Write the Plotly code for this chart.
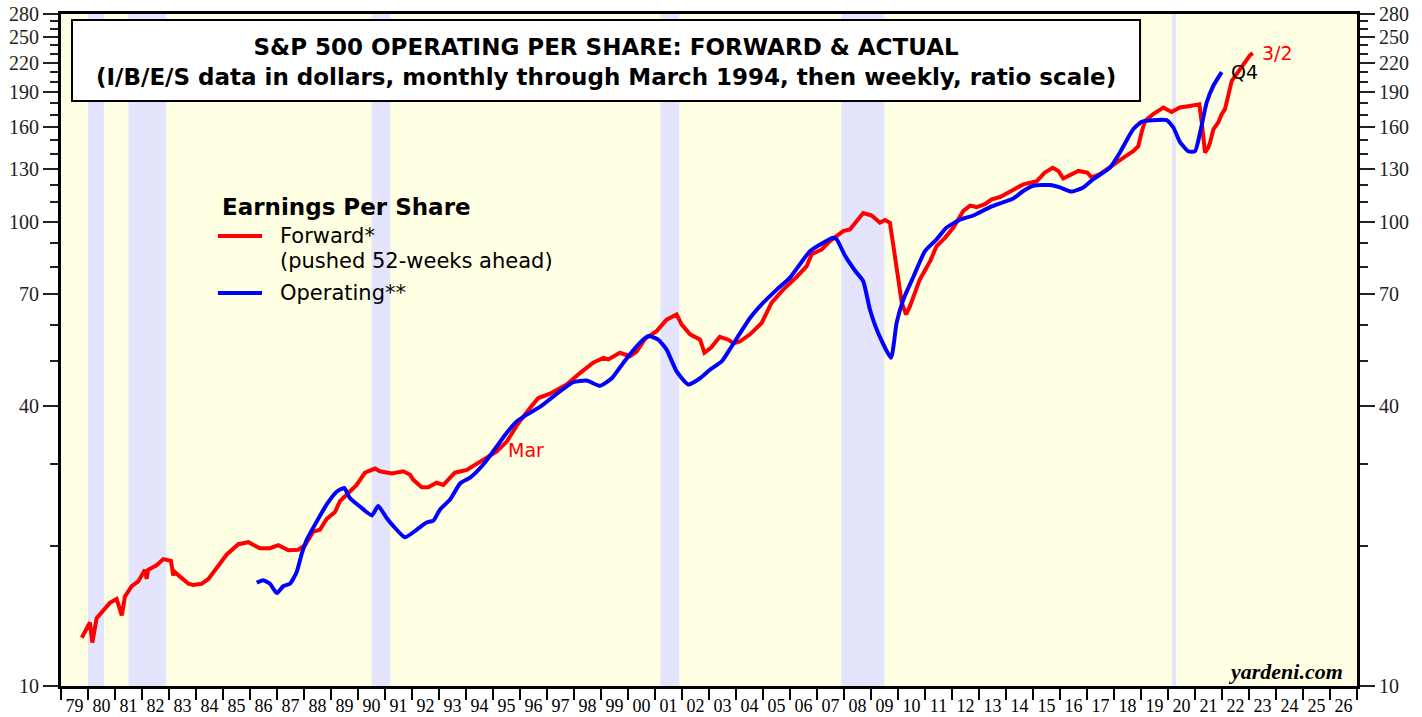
import plotly.graph_objects as go

# ---------------- data ----------------
fwd_year = [1979.77, 1980.07, 1980.16, 1980.32, 1980.81, 1981.06, 1981.25, 1981.37, 1981.62, 1981.86,
            1982.11, 1982.17, 1982.23, 1982.54, 1982.79, 1983.07, 1983.16, 1983.22, 1983.41, 1983.72,
            1983.90, 1984.21, 1984.46, 1984.70, 1985.14, 1985.57, 1985.94, 1986.37, 1986.74, 1987.05,
            1987.42, 1987.79, 1988.04, 1988.34, 1988.59, 1988.84, 1989.15, 1989.33, 1989.70, 1989.95,
            1990.26, 1990.63, 1990.81, 1991.25, 1991.68, 1991.93, 1992.05, 1992.36, 1992.60, 1992.91,
            1993.16, 1993.59, 1994.03, 1994.40, 1994.77, 1995.14, 1995.51, 1995.94, 1996.37, 1996.68,
            1997.11, 1997.73, 1998.22, 1998.71, 1999.09, 1999.27, 1999.70, 2000.07, 2000.32, 2000.63,
            2001.06, 2001.43, 2001.80, 2001.99, 2002.30, 2002.67, 2002.83, 2003.07, 2003.40, 2003.72,
            2003.90, 2004.15, 2004.52, 2004.95, 2005.32, 2005.75, 2006.25, 2006.62, 2006.80, 2007.17,
            2007.48, 2007.97, 2008.22, 2008.47, 2008.71, 2009.03, 2009.33, 2009.52, 2009.70, 2009.83,
            2010.01, 2010.14, 2010.30, 2010.44, 2010.81, 2011.19, 2011.43, 2011.74, 2012.05, 2012.42,
            2012.67, 2012.91, 2013.22, 2013.47, 2013.78, 2014.27, 2014.64, 2015.14, 2015.44, 2015.73,
            2015.94, 2016.12, 2016.37, 2016.68, 2017.01, 2017.17, 2017.48, 2017.73, 2018.04, 2018.34,
            2018.71, 2018.90, 2019.02, 2019.15, 2019.45, 2019.83, 2020.13, 2020.44, 2020.81, 2021.16,
            2021.25, 2021.37, 2021.49, 2021.56, 2021.68, 2021.86, 2021.99, 2022.11, 2022.23, 2022.36,
            2022.54, 2022.79, 2023.04, 2023.14]
fwd_eps = [12.7, 13.7, 12.4, 14.0, 15.1, 15.4, 14.2, 15.6, 16.4, 16.8,
           17.8, 17.0, 17.8, 18.2, 18.76, 18.6, 17.3, 17.6, 17.2, 16.6,
           16.5, 16.6, 17.0, 17.8, 19.2, 20.2, 20.4, 19.8, 19.8, 20.1,
           19.6, 19.65, 20.1, 21.5, 21.7, 22.9, 23.7, 25.0, 26.2, 27.1,
           28.8, 29.4, 29.0, 28.7, 29.0, 28.5, 27.8, 26.8, 26.8, 27.4,
           27.1, 28.8, 29.2, 30.1, 31.1, 32.0, 33.6, 36.8, 39.7, 41.7,
           42.6, 44.6, 47.2, 49.7, 50.9, 50.5, 52.2, 51.3, 52.5, 55.9,
           58.1, 61.5, 63.1, 60.0, 57.2, 55.7, 52.2, 53.5, 56.5, 55.7,
           54.7, 55.2, 57.2, 60.5, 66.9, 71.4, 76.1, 80.2, 85.1, 87.1,
           90.8, 95.4, 96.2, 100.4, 104.4, 103.1, 99.5, 100.8, 99.5, 88.6,
           76.1, 66.9, 63.1, 65.7, 75.1, 82.2, 88.6, 92.3, 97.1, 105.5,
           108.3, 107.5, 109.1, 111.7, 113.0, 117.4, 120.3, 122.2, 127.6, 130.6,
           128.6, 123.9, 125.8, 128.6, 127.6, 124.6, 126.5, 129.6, 133.8, 137.2,
           141.8, 145.4, 155.6, 164.8, 170.4, 176.1, 172.2, 176.1, 177.5, 178.9,
           163.6, 140.9, 144.3, 148.1, 158.1, 163.5, 170.4, 174.7, 186.6, 201.0,
           207.8, 218.4, 228.4, 230.7]

op_year = [1986.25, 1986.49, 1986.74, 1986.99, 1987.23, 1987.48, 1987.73, 1987.91, 1988.10, 1988.47,
           1988.84, 1989.21, 1989.49, 1989.70, 1990.07, 1990.51, 1990.75, 1991.06, 1991.31, 1991.74,
           1992.17, 1992.54, 1992.79, 1993.04, 1993.41, 1993.78, 1994.15, 1994.64, 1995.14, 1995.51,
           1995.88, 1996.25, 1996.74, 1997.23, 1997.97, 1998.47, 1998.96, 1999.40, 1999.83, 2000.32,
           2000.75, 2001.12, 2001.43, 2001.80, 2002.23, 2002.67, 2003.04, 2003.47, 2003.78, 2004.52,
           2005.01, 2005.51, 2006.00, 2006.74, 2007.23, 2007.60, 2007.73, 2008.04, 2008.41, 2008.71,
           2008.96, 2009.27, 2009.74, 2009.95, 2010.20, 2010.57, 2011.00, 2011.43, 2011.80, 2012.30,
           2012.79, 2013.41, 2013.78, 2014.27, 2014.64, 2015.01, 2015.63, 2016.00, 2016.43, 2016.86,
           2017.23, 2017.85, 2018.22, 2018.71, 2019.02, 2019.45, 2019.95, 2020.20, 2020.44, 2020.75,
           2021.00, 2021.19, 2021.43, 2021.68, 2021.99]
op_eps = [16.7, 16.9, 16.6, 15.85, 16.4, 16.6, 17.6, 19.2, 20.65, 22.6,
          24.6, 26.2, 26.7, 25.4, 24.35, 23.3, 24.4, 23.0, 22.1, 20.9,
          21.7, 22.5, 22.7, 24.0, 25.2, 27.3, 28.1, 30.0, 32.8, 35.1,
          37.1, 38.4, 39.9, 42.0, 45.1, 45.5, 44.3, 46.0, 49.7, 53.9,
          56.7, 55.7, 53.0, 47.6, 44.6, 46.0, 48.0, 50.0, 53.2, 62.0,
          66.9, 71.4, 75.8, 86.4, 90.1, 92.3, 91.6, 84.4, 78.4, 74.5,
          64.7, 57.5, 50.9, 60.6, 68.0, 76.1, 86.4, 91.6, 97.1, 101.0,
          103.1, 107.5, 109.5, 112.2, 116.4, 119.5, 119.9, 118.5, 116.1, 118.5,
          123.4, 130.7, 140.9, 158.1, 164.0, 165.4, 165.4, 159.5, 148.5, 141.8,
          141.8, 155.6, 180.3, 196.2, 209.9]

recession_start = [1980.0, 1981.5, 1990.5, 2001.2, 2007.9, 2020.15]
recession_end = [1980.6, 1982.9, 1991.2, 2001.9, 2009.5, 2020.3]

year_ticks = list(range(1979, 2028))
year_labels = [f"{y % 100:02d}" for y in range(1979, 2027)]
y_major = [10, 40, 70, 100, 130, 160, 190, 220, 250, 280]
y_minor = [v for v in range(20, 280, 10) if v not in y_major]

# ---------------- figure ----------------
RED = "#FF0000"
BLUE = "#0000FF"
SERIF = "Liberation Serif, Times New Roman, serif"
SANS = "DejaVu Sans, Verdana, sans-serif"

fig = go.Figure()
fig.add_trace(go.Scatter(x=fwd_year, y=fwd_eps, mode="lines",
                         line=dict(color=RED, width=4), showlegend=False,
                         name="Forward"))
fig.add_trace(go.Scatter(x=op_year, y=op_eps, mode="lines", showlegend=False,
                         line=dict(color=BLUE, width=4, shape="spline", smoothing=0.5),
                         name="Operating"))
# invisible trace to activate right axis
fig.add_trace(go.Scatter(x=fwd_year, y=fwd_eps, yaxis="y2", mode="lines",
                         line=dict(width=0), opacity=0, showlegend=False, hoverinfo="skip"))

for s, e in zip(recession_start, recession_end):
    fig.add_shape(type="rect", xref="x", yref="paper", x0=s, x1=e, y0=0, y1=1,
                  fillcolor="#E4E4FC", line=dict(width=0), layer="below")

# title box
fig.add_shape(type="rect", xref="paper", yref="paper", x0=0.0085, x1=0.8326, y0=0.8705, y1=0.991,
              fillcolor="white", line=dict(color="black", width=2), layer="above")
fig.add_annotation(xref="paper", yref="paper", x=0.4205, y=0.928, showarrow=False,
                   xanchor="center", yanchor="middle",
                   text="<b>S&P 500 OPERATING PER SHARE: FORWARD & ACTUAL<br>"
                        "(I/B/E/S data in dollars, monthly through March 1994, then weekly, ratio scale)</b>",
                   font=dict(family=SANS, size=23, color="black"), align="center")

# legend (manual)
fig.add_annotation(xref="paper", yref="paper", x=0.1227, y=0.7128, showarrow=False,
                   xanchor="left", yanchor="middle", text="<b>Earnings Per Share</b>",
                   font=dict(family=SANS, size=23, color="black"))
fig.add_shape(type="line", xref="paper", yref="paper", x0=0.1211, x1=0.1551, y0=0.6696, y1=0.6696,
              line=dict(color=RED, width=4))
fig.add_annotation(xref="paper", yref="paper", x=0.1674, y=0.6696, showarrow=False,
                   xanchor="left", yanchor="middle", text="Forward*",
                   font=dict(family=SANS, size=21, color="black"))
fig.add_annotation(xref="paper", yref="paper", x=0.1674, y=0.6324, showarrow=False,
                   xanchor="left", yanchor="middle", text="(pushed 52-weeks ahead)",
                   font=dict(family=SANS, size=21, color="black"))
fig.add_shape(type="line", xref="paper", yref="paper", x0=0.1211, x1=0.1551, y0=0.5848, y1=0.5848,
              line=dict(color=BLUE, width=4))
fig.add_annotation(xref="paper", yref="paper", x=0.1674, y=0.5848, showarrow=False,
                   xanchor="left", yanchor="middle", text="Operating**",
                   font=dict(family=SANS, size=21, color="black"))

fig.add_annotation(x=1995.48, y=1.509, text="Mar", showarrow=False, xanchor="left", yanchor="middle",
                   font=dict(family=SANS, size=19, color=RED))
fig.add_annotation(x=2023.41, y=2.364, text="3/2", showarrow=False, xanchor="left", yanchor="middle",
                   font=dict(family=SANS, size=19, color=RED))
fig.add_annotation(x=2022.26, y=2.322, text="Q4", showarrow=False, xanchor="left", yanchor="middle",
                   font=dict(family=SANS, size=19, color="black"))
fig.add_annotation(xref="paper", yref="paper", x=0.9907, y=0.0223, text="<b><i>yardeni.com</i></b>",
                   showarrow=False, xanchor="right", yanchor="middle",
                   font=dict(family=SERIF, size=22, color="black"))

yaxis_common = dict(
    type="log", range=[1, 2.4472], tickmode="array", tickvals=y_major,
    ticktext=[str(v) for v in y_major], ticks="outside", ticklen=15, tickwidth=2,
    tickcolor="#222", showgrid=False, zeroline=False, automargin=False,
    tickfont=dict(family=SERIF, size=20, color="#222"),
    minor=dict(tickmode="array", tickvals=y_minor, ticks="outside", ticklen=8,
               tickwidth=2, tickcolor="#222", showgrid=False),
    showline=True, linecolor="black", linewidth=3,
)

fig.update_layout(
    width=1422, height=717,
    margin=dict(l=61, r=65, t=14, b=31, autoexpand=False),
    paper_bgcolor="white", plot_bgcolor="#FFFFE4",
    showlegend=False,
    xaxis=dict(range=[1979, 2027], tickmode="array",
               tickvals=[y + 0.5 for y in range(1979, 2027)], ticktext=year_labels,
               ticks="outside", ticklen=1, tickcolor="rgba(0,0,0,0)", automargin=False,
               tickfont=dict(family=SERIF, size=18, color="black"),
               minor=dict(tickmode="array", tickvals=year_ticks, ticks="outside",
                          ticklen=11, tickwidth=2, tickcolor="black", showgrid=False),
               showgrid=False, zeroline=False, showline=True, linecolor="black",
               linewidth=3, mirror=True),
    yaxis=dict(side="left", mirror=True, **yaxis_common),
    yaxis2=dict(side="right", overlaying="y", anchor="x", **yaxis_common),
)

fig.write_html("out.html", config={"displayModeBar": False},
               post_script="document.body.style.margin='0';")
